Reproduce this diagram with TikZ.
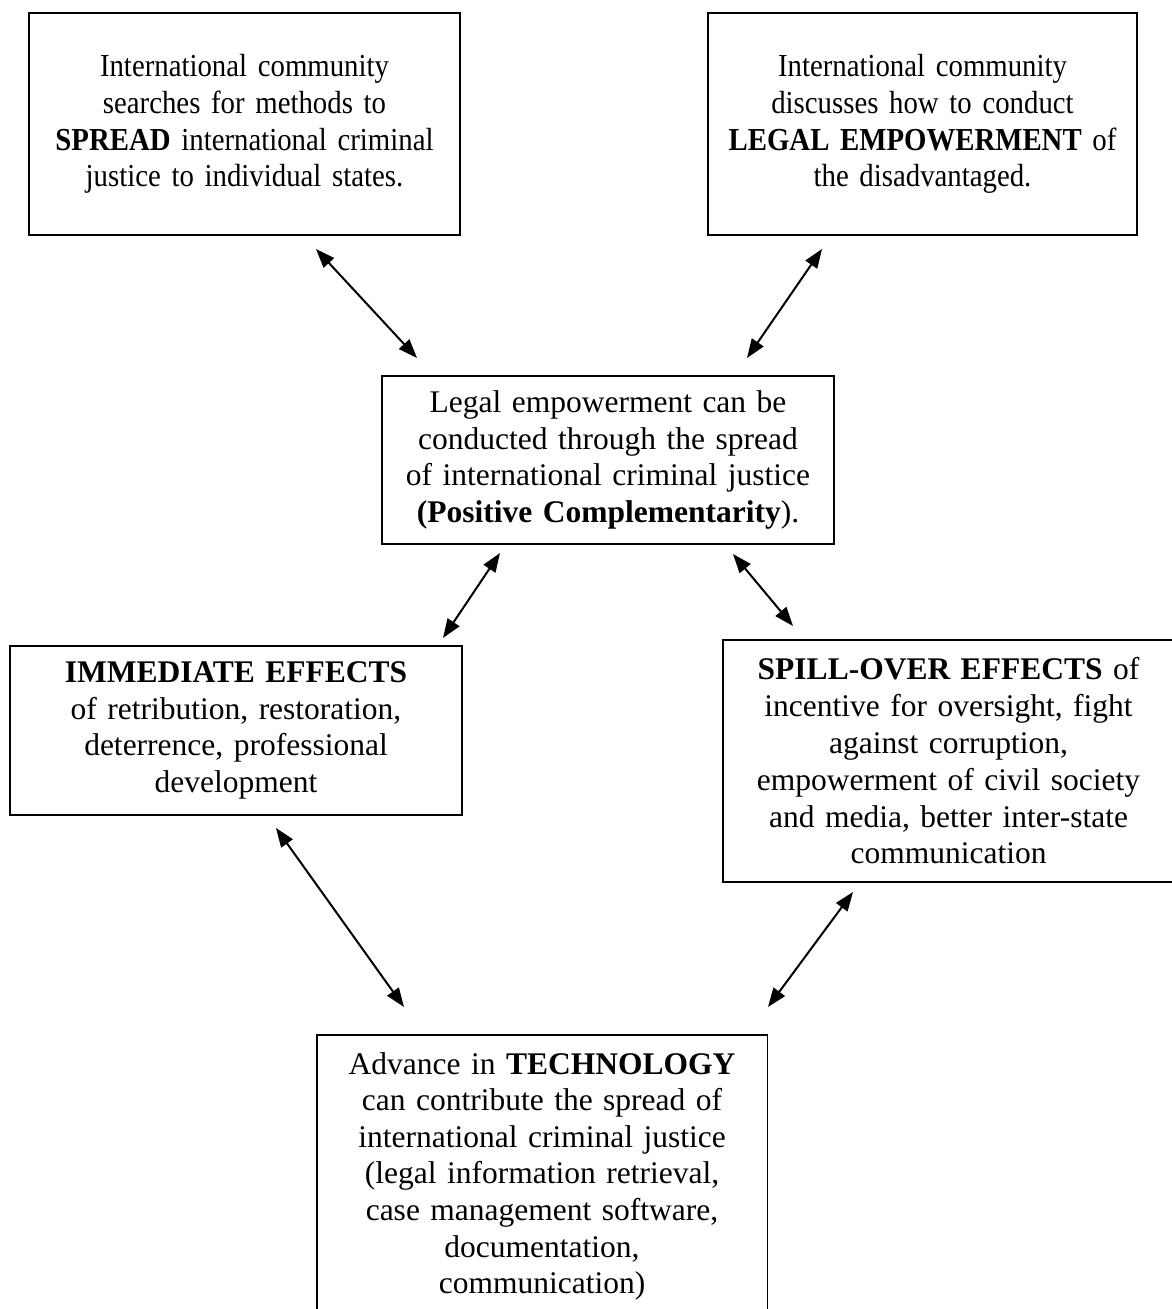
\documentclass[tikz,border=0pt]{standalone}
\usepackage{fontspec}
\setmainfont{Liberation Serif}
\newfontfamily\narrowserif[FakeStretch=0.9]{Liberation Serif}
\usetikzlibrary{arrows.meta}
\begin{document}
\begin{tikzpicture}[x=1pt,y=-1pt,
  box/.style={draw, line width=1.4pt, inner sep=0pt, align=center,
    font=\fontsize{31.5}{36.8}\selectfont},
  narrowbox/.style={box, font=\narrowserif\fontsize{32}{36.8}\selectfont},
  techbox/.style={inner xsep=0pt, inner ysep=17pt, align=center,
    font=\fontsize{31.5}{36.6}\selectfont},
  boxline/.style={draw, line width=1.4pt},
  dbl/.style={line width=2pt,
    {Triangle[length=19pt,width=14pt]}-{Triangle[length=19pt,width=14pt]}}]
\useasboundingbox (0,0) rectangle (1171,1309);
\fill[white] (0,0) rectangle (1171,1309);

\node[narrowbox, text width=431pt, minimum height=222pt] (b1) at (244.5,124)
  {International community\\ searches for methods to\\ \textbf{SPREAD} international criminal\\ justice to individual states.};
\node[narrowbox, text width=429pt, minimum height=222pt] (b2) at (922.5,124)
  {International community\\ discusses how to conduct\\ \textbf{LEGAL EMPOWERMENT} of\\ the disadvantaged.};
\node[box, text width=452pt, minimum height=168pt] (b3) at (608,460)
  {Legal empowerment can be\\ conducted through the spread\\ of international criminal justice\\ \textbf{(Positive Complementarity}).};
\node[box, text width=452pt, minimum height=169pt] (b4) at (236,730.5)
  {\textbf{IMMEDIATE EFFECTS}\\ of retribution, restoration,\\ deterrence, professional\\ development};
\node[box, text width=451pt, minimum height=242pt] (b5) at (948.5,761)
  {\textbf{SPILL-OVER EFFECTS} of\\ incentive for oversight, fight\\ against corruption,\\ empowerment of civil society\\ and media, better inter-state\\ communication};
\node[techbox, text width=450pt, anchor=north] (b6) at (542,1035)
  {Advance in \textbf{TECHNOLOGY}\\ can contribute the spread of\\ international criminal justice\\ (legal information retrieval,\\ case management software,\\ documentation,\\ communication)};
\draw[boxline] (b6.north west) rectangle ([yshift=-80pt]b6.south east);

\coordinate (a1s) at (316,249); \coordinate (a1e) at (417,358);
\coordinate (a2s) at (822,249); \coordinate (a2e) at (747,358);
\coordinate (a3s) at (500,553); \coordinate (a3e) at (443,638);
\coordinate (a4s) at (733,554); \coordinate (a4e) at (793,626);
\coordinate (a5s) at (276,828); \coordinate (a5e) at (404,1007);
\coordinate (a6s) at (853,892); \coordinate (a6e) at (768,1007);
\draw[dbl] (a1s) -- (a1e);
\draw[dbl] (a2s) -- (a2e);
\draw[dbl] (a3s) -- (a3e);
\draw[dbl] (a4s) -- (a4e);
\draw[dbl] (a5s) -- (a5e);
\draw[dbl] (a6s) -- (a6e);
\end{tikzpicture}
\end{document}
